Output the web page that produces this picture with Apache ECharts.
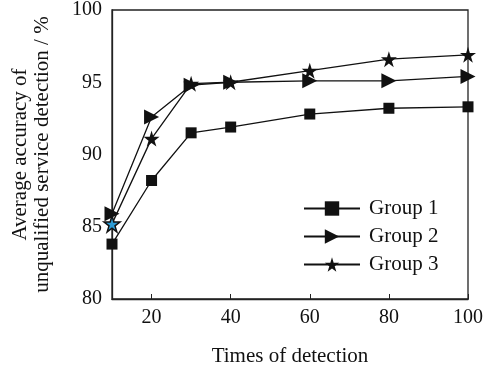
<!DOCTYPE html>
<html>
<head>
<meta charset="utf-8">
<script src="https://cdn.jsdelivr.net/npm/echarts@6/dist/echarts.min.js"></script>
<style>
  html, body { margin: 0; padding: 0; background: #fff; }
  #chart { width: 495px; height: 369px; }
</style>
</head>
<body>
<div id="chart"></div>
<script>
const times = [10, 20, 30, 40, 60, 80, 100]
const group1 = [83.8, 88.2, 91.5, 91.9, 92.8, 93.2, 93.3]
const group2 = [85.9, 92.6, 94.8, 95.0, 95.1, 95.1, 95.4]
const group3 = [85.2, 91.1, 94.9, 95.0, 95.8, 96.6, 96.9]
const xTicks = [20, 40, 60, 80, 100]
const seriesNames = ['Group 1', 'Group 2', 'Group 3']

const FONT = '"Liberation Serif", "Times New Roman", serif'
const STAR = 'path://M50,0 L61,35 L98,35 L68,57 L79,91 L50,70 L21,91 L32,57 L2,35 L39,35 Z'

const chart = echarts.init(document.getElementById('chart'), null, { renderer: 'canvas' })

function pairs(vals) {
  return times.map((t, i) => [t, vals[i]])
}

const base = {
  type: 'line',
  lineStyle: { color: '#111', width: 1.3 },
  itemStyle: { color: '#111' },
  emphasis: { disabled: true },
  z: 3,
}

// first star is drawn blue-ish in the original
const g3data = pairs(group3).map((p, i) => i === 0
  ? { value: p, itemStyle: { color: '#2d9bd4', borderColor: '#111', borderWidth: 1.5 } }
  : p)

chart.setOption({
  backgroundColor: '#fff',
  animation: false,
  grid: {
    left: 112, right: 27, top: 10, bottom: 70,
    outerBoundsMode: 'none',
    show: true, borderColor: '#222', borderWidth: 1.3, backgroundColor: 'transparent',
  },
  legend: {
    orient: 'vertical',
    left: 303, top: 198,
    padding: 0,
    itemWidth: 56, itemHeight: 18, itemGap: 7,
    textStyle: { fontFamily: FONT, fontSize: 21, lineHeight: 18, color: '#111', padding: [0, 0, 0, 4] },
    data: seriesNames,
  },
  xAxis: {
    type: 'value',
    min: 10, max: 100,
    name: 'Times of detection',
    nameLocation: 'middle',
    nameGap: 47,
    nameTextStyle: { fontFamily: FONT, fontSize: 21, color: '#111' },
    axisLine: { lineStyle: { color: '#222', width: 1.3 } },
    axisTick: { inside: true, length: 5, customValues: xTicks, lineStyle: { color: '#222' } },
    axisLabel: { customValues: xTicks, fontFamily: FONT, fontSize: 20, color: '#111', margin: 9 },
    splitLine: { show: false },
  },
  yAxis: {
    type: 'value',
    min: 80, max: 100, interval: 5,
    name: 'Average accuracy of\nunqualified service detection / %',
    nameLocation: 'middle',
    nameGap: 59,
    nameRotate: 90,
    nameTextStyle: { fontFamily: FONT, fontSize: 21, color: '#111', lineHeight: 22 },
    axisLine: { lineStyle: { color: '#222', width: 1.3 } },
    axisTick: { show: false },
    axisLabel: { fontFamily: FONT, fontSize: 20, color: '#111', margin: 10 },
    splitLine: { show: false },
  },
  series: [
    Object.assign({}, base, {
      name: seriesNames[0], symbol: 'rect', symbolSize: 11, data: pairs(group1),
    }),
    Object.assign({}, base, {
      name: seriesNames[1], symbol: 'triangle', symbolRotate: -90, symbolSize: [15, 15], data: pairs(group2),
    }),
    Object.assign({}, base, {
      name: seriesNames[2], symbol: STAR, symbolSize: 16, data: g3data,
    }),
  ],
})
</script>
</body>
</html>
